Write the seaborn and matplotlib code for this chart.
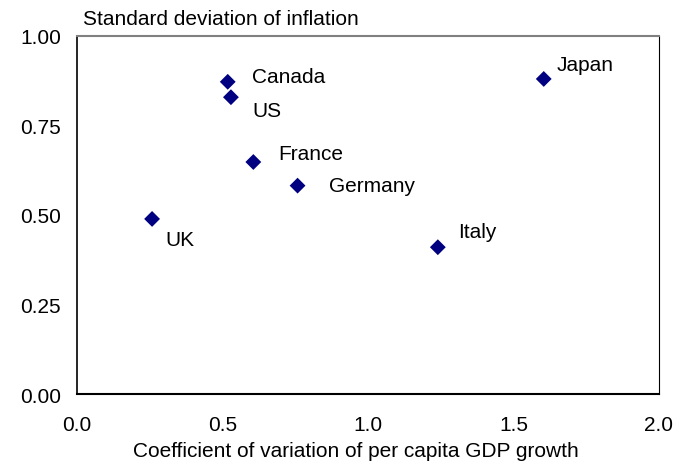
import seaborn as sns
from matplotlib import pyplot as plt
import pandas as pd

countries = ["Canada", "US", "France", "Germany", "UK", "Japan", "Italy"]
gdp_cv = [0.518, 0.529, 0.606, 0.758, 0.258, 1.604, 1.240]
infl_sd = [0.872, 0.829, 0.648, 0.582, 0.489, 0.880, 0.410]

# label offsets in pixels (right, up) from each marker
offsets = {
    "Canada": (24, 5), "US": (21, -13), "France": (25, 9), "Germany": (31, 0),
    "UK": (13, -21), "Japan": (13, 14), "Italy": (20, 16),
}

df = pd.DataFrame({"country": countries, "gdp_cv": gdp_cv, "infl_sd": infl_sd})

sns.set_style("white")
plt.rcParams["font.family"] = ["Liberation Sans", "DejaVu Sans"]
plt.rcParams["text.color"] = "black"
plt.rcParams["xtick.color"] = "black"
plt.rcParams["ytick.color"] = "black"

fs = 15

fig = plt.figure(figsize=(6.79, 4.64), dpi=100)
ax = fig.add_axes([0.1134, 0.1487, 0.8571, 0.7716])

sns.scatterplot(data=df, x="gdp_cv", y="infl_sd", marker="D", color="#000080",
                s=65, edgecolor="none", ax=ax, zorder=3)

for c, x, y in zip(countries, gdp_cv, infl_sd):
    dx, dy = offsets[c]
    ax.annotate(c, (x, y), xytext=(dx, dy), textcoords="offset pixels",
                ha="left", va="center", fontsize=fs, color="black")

ax.set_xlim(0, 2.0)
ax.set_ylim(0, 1.0)
ax.set_xticks([0, 0.5, 1.0, 1.5, 2.0])
ax.set_xticklabels(["0.0", "0.5", "1.0", "1.5", "2.0"])
ax.set_yticks([0, 0.25, 0.5, 0.75, 1.0])
ax.set_yticklabels(["0.00", "0.25", "0.50", "0.75", "1.00"])
ax.tick_params(axis="x", direction="in", length=4.3, width=0.8, color="#808080",
               labelsize=fs, pad=15, labelcolor="black")
ax.tick_params(axis="y", direction="out", length=3, width=0.8, color="black",
               labelsize=fs, pad=8.5, labelcolor="black")

ax.set_xlabel("Coefficient of variation of per capita GDP growth", fontsize=fs,
              color="black")
ax.xaxis.set_label_coords(0.48, -0.132)
ax.set_ylabel("")
ax.annotate("Standard deviation of inflation", (0, 1), xycoords="axes fraction",
            xytext=(6, 12), textcoords="offset pixels", ha="left", va="baseline",
            fontsize=fs, color="black")

for side in ["left", "bottom", "right"]:
    ax.spines[side].set_color("black")
ax.spines["top"].set_color("#808080")
ax.spines["left"].set_linewidth(1.2)
ax.spines["bottom"].set_linewidth(1.5)
ax.spines["right"].set_linewidth(0.8)
ax.spines["top"].set_linewidth(1.5)

fig.savefig("out.png", dpi=100)
